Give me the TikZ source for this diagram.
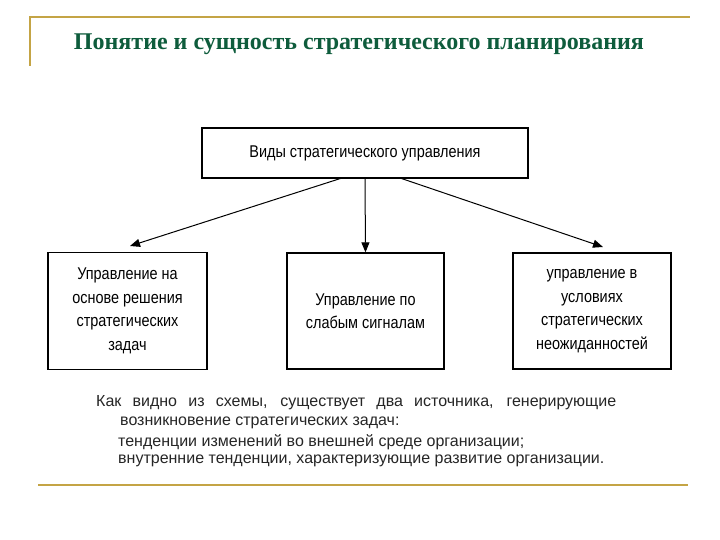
\documentclass[tikz,border=0pt]{standalone}
\usepackage{fontspec}
\setmainfont{Liberation Sans}
\newfontfamily\titlefont{Liberation Serif}
\newfontfamily\boxfont[FakeStretch=0.85]{Liberation Sans}
\usetikzlibrary{arrows.meta}
\definecolor{gold}{HTML}{C4A445}
\definecolor{titlegreen}{HTML}{0E5C3C}
\begin{document}
\begin{tikzpicture}[x=1pt,y=-1pt,
  bx/.style={draw=black, line width=1.3pt, fill=white, inner sep=0pt, font=\boxfont\fontsize{17}{23.5}\selectfont, align=center},
  conn/.style={line width=1pt, -{Triangle[length=10pt,width=8pt]}},
  goldline/.style={draw=gold, line width=2.2pt},
  body/.style={anchor=west, inner sep=0pt, font=\fontsize{16}{19}\selectfont, text=black!85}]
\useasboundingbox (0,0) rectangle (720,540);
\fill[white] (0,0) rectangle (720,540);
% frame lines
\coordinate (tl) at (30,17);
\coordinate (tr) at (690,17);
\coordinate (tb) at (30,66);
\draw[goldline] (tb) -- (tl) -- (tr);
\coordinate (bl) at (38,485);
\coordinate (br) at (688,485);
\draw[goldline] (bl) -- (br);
% title
\node[font=\titlefont\bfseries\fontsize{24}{28}\selectfont, text=titlegreen] (title) at (359,44) {Понятие и сущность стратегического планирования};
% boxes
\node[bx, minimum width=326pt, minimum height=50pt] (top) at (365,153) {Виды стратегического управления};
\node[bx, minimum width=159pt, minimum height=117pt] (left) at (127.5,311) {Управление на\\основе решения\\стратегических\\задач};
\node[bx, minimum width=157pt, minimum height=116pt] (mid) at (365.5,311) {Управление по\\слабым сигналам};
\node[bx, minimum width=158pt, minimum height=116pt] (right) at (592,311) {управление в\\условиях\\стратегических\\неожиданностей};
% connectors
\coordinate (ls) at (342,178);
\coordinate (le) at (130,246);
\coordinate (rs) at (400,178);
\coordinate (re) at (603,247);
\draw[conn] (ls) -- (le);
\draw[conn] (top.south) -- (mid.north);
\draw[conn] (rs) -- (re);
% text
\node[body] (t1) at (96,403) {\makebox[520pt][s]{Как видно из схемы, существует два источника, генерирующие}};
\node[body] (t2) at (120,423) {возникновение стратегических задач:};
\node[body] (t3) at (118,442) {тенденции изменений во внешней среде организации;};
\node[body] (t4) at (118,461) {внутренние тенденции, характеризующие развитие организации.};
\end{tikzpicture}
\end{document}
